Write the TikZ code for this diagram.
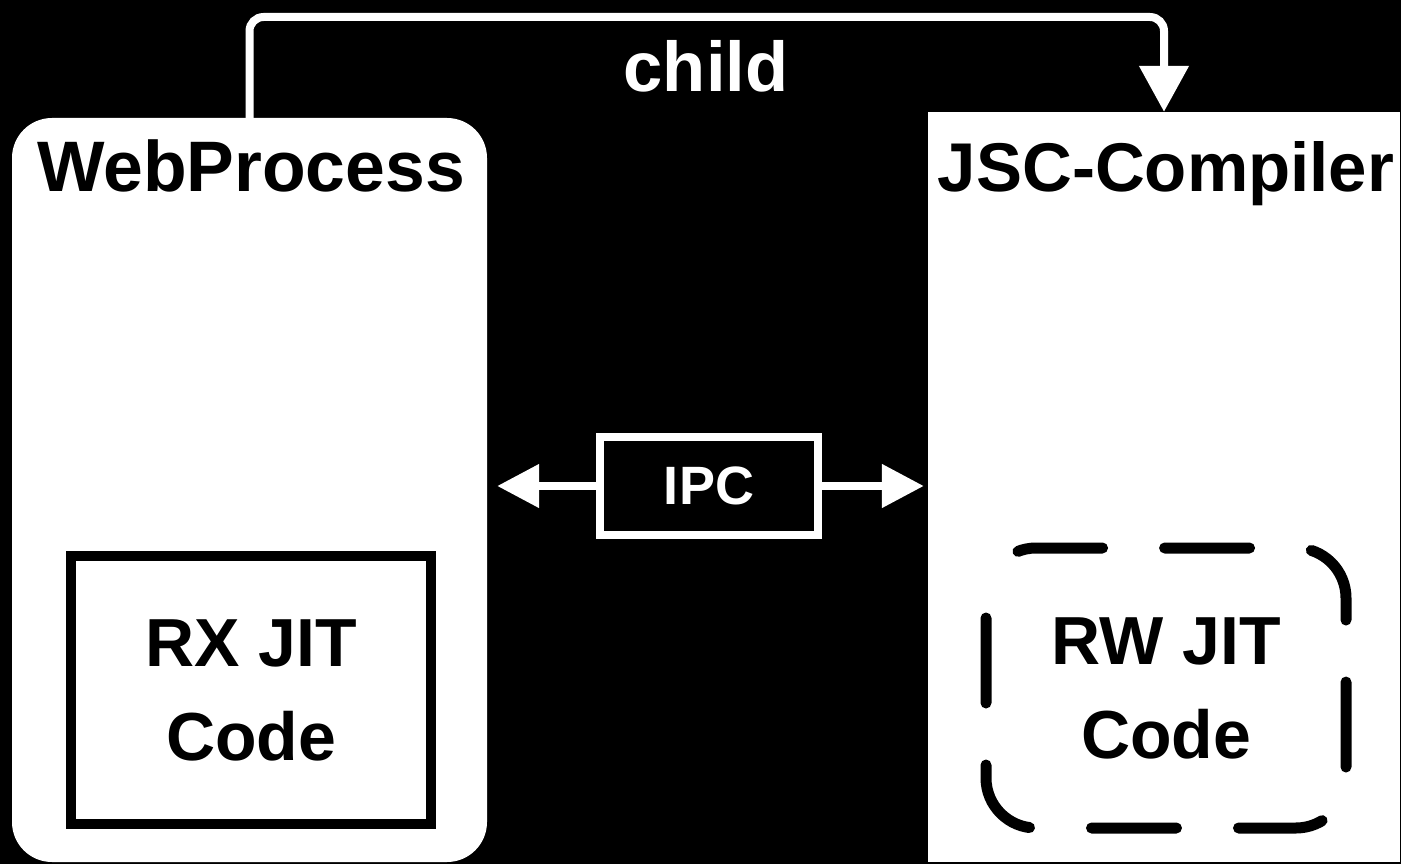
\documentclass[tikz,border=0pt]{standalone}
\usepackage{fontspec}
\setmainfont{Liberation Sans}
\usetikzlibrary{arrows.meta, calc}

\tikzset{
  procbox/.style={fill=white, draw=none, inner sep=0pt},
  title/.style={font=\bfseries\fontsize{69}{80}\selectfont, anchor=base, inner sep=0pt},
  jitbox/.style={draw=black, fill=white, line width=10pt, inner sep=0pt,
    align=center, font=\bfseries\fontsize{68}{94}\selectfont},
  link/.style={draw=white, line width=8pt},
}

\begin{document}
\begin{tikzpicture}[x=1pt, y=-1pt]
\useasboundingbox[fill=black] (0,0) rectangle (1401,864);
% processes
\node[procbox, rounded corners=40pt, minimum width=475pt, minimum height=744pt] (web) at (249.5,490) {};
\node[procbox, minimum width=472pt, minimum height=750pt] (jsc) at (1164,487) {};
\node[title, font=\bfseries\fontsize{71.5}{80}\selectfont] (webname) at (251,192) {WebProcess};
\node[title] (jscname) at (1166,192) {JSC-Compiler};
% jit code
\node[jitbox, minimum width=360pt, minimum height=268pt] (rx) at (251,690) {RX JIT\\Code};
\node[jitbox, draw=none, minimum width=350pt, minimum height=270pt] (rw) at (1166,688) {RW JIT\\Code};
\draw[line width=11pt, line cap=round, rounded corners=50pt, dash pattern=on 85pt off 62pt, dash phase=-20pt]
  (rw.north west) rectangle (rw.south east);
% ipc
\node[draw=white, fill=black, line width=8pt, text=white, minimum width=218pt, minimum height=98pt,
  font=\bfseries\fontsize{54}{60}\selectfont] (ipc) at (709,486) {IPC};
\draw[link, -{Triangle[length=42pt, width=42pt]}, shorten >=10pt] (ipc.west) -- (ipc.west -| web.east);
\draw[link, -{Triangle[length=42pt, width=42pt]}, shorten >=4pt] (ipc.east) -- (ipc.east -| jsc.west);
% child
\coordinate (top) at (0,17);
\draw[link, rounded corners=14pt, -{Triangle[length=46pt, width=48pt]}]
  (web.north) -- (web.north |- top) -| (jsc.north);
\node[title, text=white, font=\bfseries\fontsize{70.5}{80}\selectfont] (child) at (706,92) {child};
\end{tikzpicture}
\end{document}
